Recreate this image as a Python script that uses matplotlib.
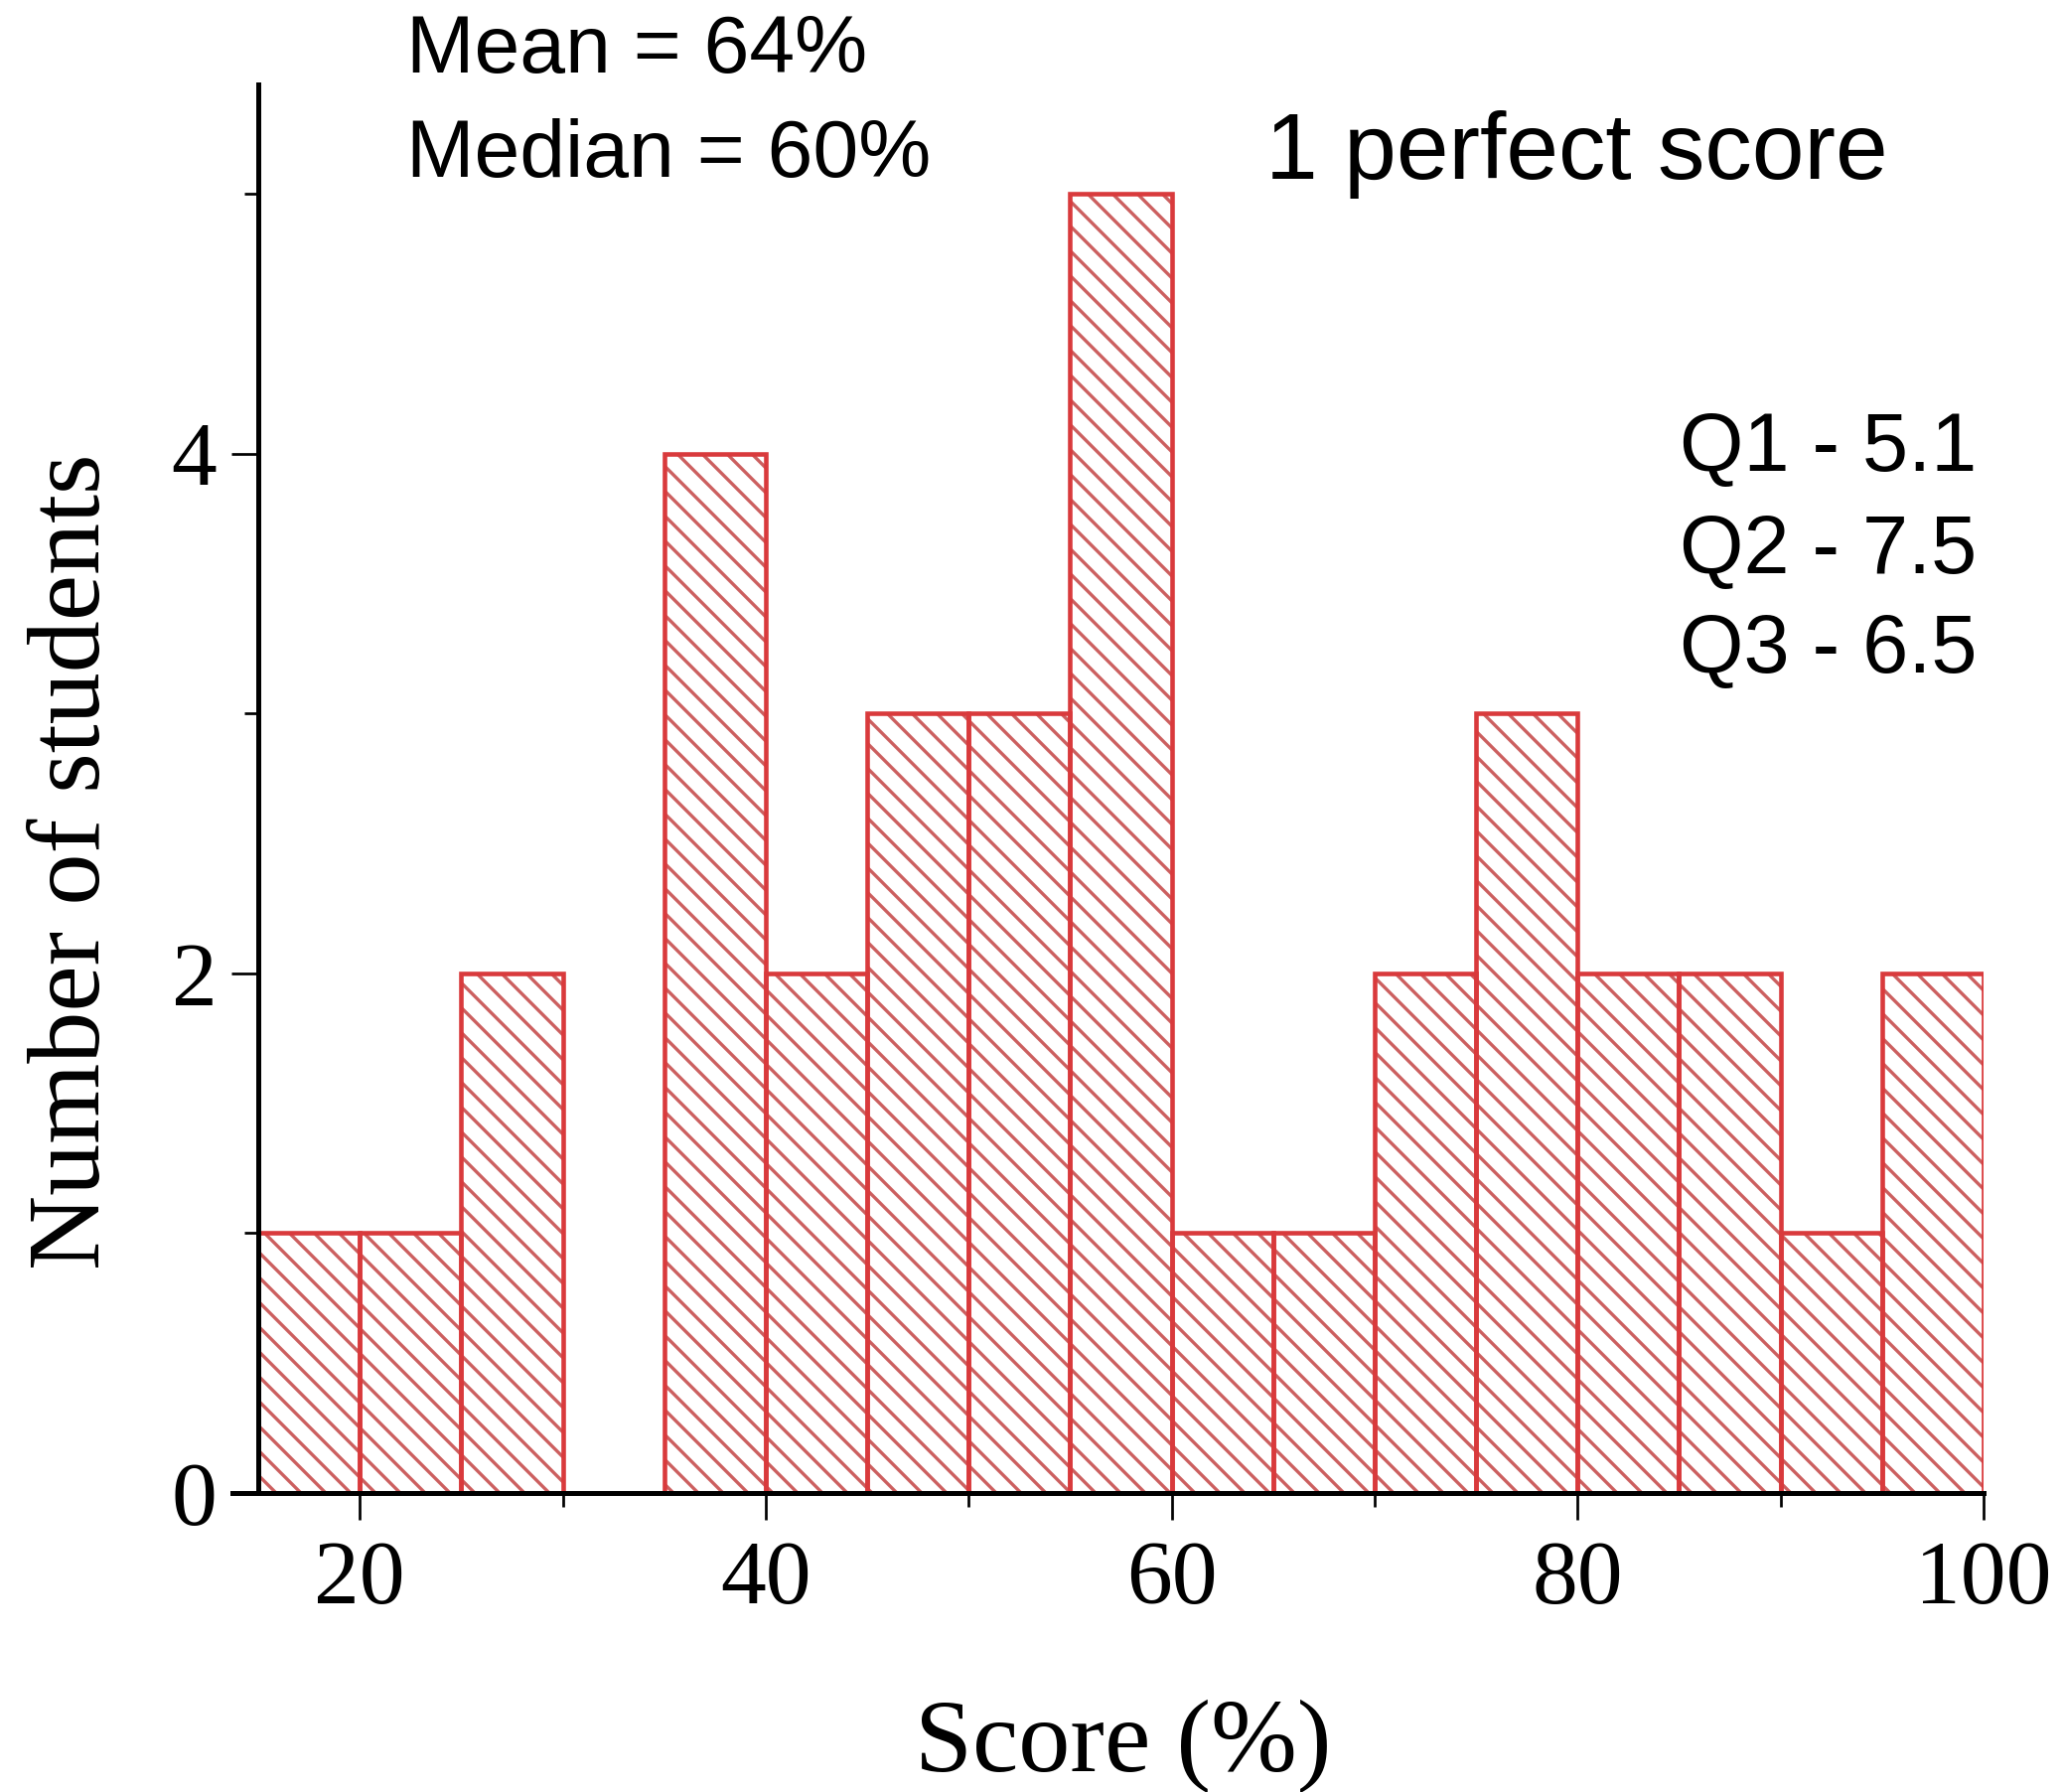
import matplotlib
matplotlib.use("Agg")
import matplotlib.pyplot as plt

# histogram of scores, 5% bins
bin_left = [15, 20, 25, 30, 35, 40, 45, 50, 55, 60, 65, 70, 75, 80, 85, 90, 95]
counts = [1, 1, 2, 0, 4, 2, 3, 3, 5, 1, 1, 2, 3, 2, 2, 1, 2]
bin_width = 5

x_major = [20, 40, 60, 80, 100]
x_minor = [30, 50, 70, 90]
y_major = [0, 2, 4]
y_minor = [1, 3, 5]

stats_lines = ["Mean = 64%", "Median = 60%"]
quart_lines = ["Q1 - 5.1", "Q2 - 7.5", "Q3 - 6.5"]
perfect_note = "1 perfect score"

plt.rcParams['hatch.linewidth'] = 1.6

W, H, dpi = 2077, 1804, 150
fig = plt.figure(figsize=(W / dpi, H / dpi), dpi=dpi)
ax = fig.add_axes([233.5 / W, 1 - 1503 / H, (1997 - 233.5) / W, (1503 - 85) / H])

# hatch layer, then outline layer on top
ax.bar(bin_left, counts, width=bin_width, align='edge', color='white',
       edgecolor='#cc5f5f', hatch='\\\\', linewidth=0, zorder=1)
ax.bar(bin_left, counts, width=bin_width, align='edge', fill=False,
       edgecolor='#d93a3c', linewidth=2.2, zorder=2)

ax.set_xlim(13.7, 100)
ax.set_ylim(0, 5.42)

for s in ['top', 'right']:
    ax.spines[s].set_visible(False)
ax.spines['left'].set_position(('data', 15))
for s in ['left', 'bottom']:
    ax.spines[s].set_linewidth(2.4)
    ax.spines[s].set_zorder(3)

ax.set_xticks(x_major)
ax.set_xticks(x_minor, minor=True)
ax.set_yticks(y_major)
ax.set_yticks(y_minor, minor=True)

serif = 'Liberation Serif'
sans = 'Liberation Sans'
ax.tick_params(which='major', direction='out', length=13, width=1.3)
ax.tick_params(which='minor', direction='out', length=6.5, width=1.3)
ax.tick_params(axis='x', which='major', pad=10)
ax.tick_params(axis='y', which='major', pad=7)
for lab in ax.get_xticklabels() + ax.get_yticklabels():
    lab.set_fontfamily(serif)
    lab.set_fontsize(44)

ax.set_xlabel("Score (%)", fontfamily=serif, fontsize=50)
ax.xaxis.set_label_coords(0.509, -0.1975)
ax.xaxis.label.set_verticalalignment('baseline')

ax.set_ylabel("Number of students", fontfamily=serif, fontsize=50)
ax.yaxis.set_label_coords(-0.0757, 0.4485)
ax.yaxis.label.set_rotation_mode('anchor')
ax.yaxis.label.set_horizontalalignment('center')
ax.yaxis.label.set_verticalalignment('baseline')

# annotations
for txt, yv in zip(stats_lines, [5.467, 5.066]):
    ax.text(22.3, yv, txt, fontfamily=sans, fontsize=39.5, va='baseline', ha='left')
ax.text(64.6, 5.058, perfect_note, fontfamily=sans, fontsize=45.5, va='baseline', ha='left')
for txt, yv in zip(quart_lines, [3.935, 3.538, 3.156]):
    ax.text(85.03, yv, txt, fontfamily=sans, fontsize=39.8, va='baseline', ha='left')

fig.savefig("out.png", dpi=dpi, facecolor='white')
